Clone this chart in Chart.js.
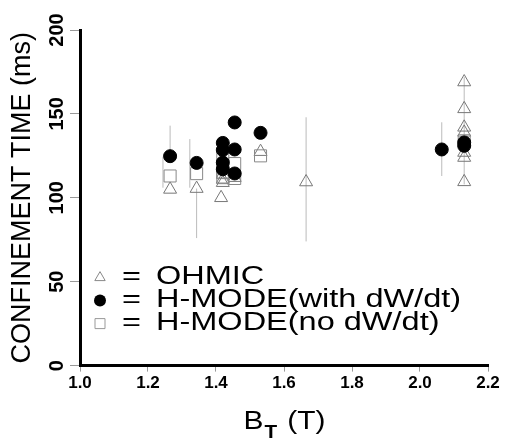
<!DOCTYPE html>
<html>
<head>
<meta charset="utf-8">
<script src="https://cdn.jsdelivr.net/npm/chart.js@4.4.1/dist/chart.umd.min.js"></script>
<style>
  html, body { margin: 0; padding: 0; background: #fff; }
  #wrap { width: 509px; height: 440px; }
</style>
</head>
<body>
<div id="wrap"><canvas id="chart"></canvas></div>
<script>
// values
const ohmicX = [1.265, 1.343, 1.415, 1.42, 1.42, 1.42, 1.455, 1.531, 1.665, 2.13, 2.13, 2.13, 2.13, 2.13, 2.13, 2.13];
const ohmicY = [105, 105.5, 100, 114, 111, 109, 112, 127.5, 109.4, 169, 153, 142, 139, 127, 124, 109.5];

const withX = [1.265, 1.343, 1.42, 1.42, 1.42, 1.42, 1.455, 1.455, 1.455, 1.531, 2.064, 2.13, 2.13];
const withY = [124.8, 120.8, 132.7, 128.5, 121, 117, 144.9, 128.8, 114.5, 138.7, 128.8, 133, 131];

const noX = [1.265, 1.343, 1.42, 1.42, 1.42, 1.42, 1.455, 1.455, 1.531, 2.13];
const noY = [113, 114.4, 124, 119, 115, 112, 120.4, 111.5, 125, 134];

// error bars: x, low, high
const errX = [1.244, 1.265, 1.323, 1.343, 1.665, 2.064, 2.13];
const errLo = [106, 124.8, 106, 76, 74, 113, 108];
const errHi = [124.5, 143, 135, 105.5, 148, 145, 172];

const xTicks = [1.0, 1.2, 1.4, 1.6, 1.8, 2.0, 2.2];
const yTicks = [0, 50, 100, 150, 200];
const legendLabels = ["OHMIC", "H-MODE(with dW/dt)", "H-MODE(no dW/dt)"];
const legendShapes = ["triangle", "circle", "rect"];

const FONT = "'Liberation Sans', Arial, Helvetica, sans-serif";

const toPoints = (xs, ys) => xs.map((x, i) => ({ x: x, y: ys[i] }));

const errPoints = [];
errX.forEach((x, i) => {
  errPoints.push({ x: x, y: errLo[i] }, { x: x, y: errHi[i] }, { x: x, y: null });
});

function drawMarker(ctx, shape, x, y) {
  ctx.beginPath();
  if (shape === "triangle") {
    const r = 6;
    ctx.moveTo(x, y - r);
    ctx.lineTo(x + r * 0.866, y + r * 0.5);
    ctx.lineTo(x - r * 0.866, y + r * 0.5);
    ctx.closePath();
    ctx.strokeStyle = "#888";
    ctx.lineWidth = 1;
    ctx.stroke();
  } else if (shape === "circle") {
    ctx.arc(x, y, 6, 0, Math.PI * 2);
    ctx.fillStyle = "#000";
    ctx.fill();
  } else {
    ctx.rect(x - 5, y - 5, 10, 10);
    ctx.strokeStyle = "#999";
    ctx.lineWidth = 1;
    ctx.stroke();
  }
}

// text legend inside the plot, stretched like the scan
const legendBox = {
  id: "legendBox",
  afterDatasetsDraw(chart) {
    const ctx = chart.ctx;
    const a = chart.chartArea;
    ctx.save();
    legendLabels.forEach((label, i) => {
      const y = a.bottom - 88 + i * 23;
      drawMarker(ctx, legendShapes[i], a.left + 20, y);
      ctx.fillStyle = "#000";
      ctx.font = "25px " + FONT;
      ctx.textBaseline = "middle";
      ctx.textAlign = "left";
      ctx.save();
      ctx.translate(a.left + 42, y);
      ctx.scale(1.3, 1);
      ctx.fillText("=", 0, 0);
      ctx.restore();
      ctx.save();
      ctx.translate(a.left + 76, y);
      ctx.scale(1.3, 1);
      ctx.fillText(label, 0, 0);
      ctx.restore();
    });
    ctx.restore();
  }
};

// x title with subscript: B_T (T)
const xTitle = {
  id: "xTitle",
  afterDraw(chart) {
    const ctx = chart.ctx;
    const a = chart.chartArea;
    const base = a.bottom + 63;
    const sx = 1.15;
    ctx.save();
    ctx.fillStyle = "#000";
    ctx.textBaseline = "alphabetic";
    ctx.textAlign = "left";
    ctx.font = "26px " + FONT;
    const wB = ctx.measureText("B").width * sx;
    const wP = ctx.measureText("(T)").width * sx;
    ctx.font = "18px " + FONT;
    const wT = ctx.measureText("T").width * sx;
    const gap = 10;
    let x = (a.left + a.right) / 2 - (wB + wT + gap + wP) / 2;
    ctx.font = "26px " + FONT;
    ctx.save(); ctx.translate(x, base); ctx.scale(sx, 1); ctx.fillText("B", 0, 0); ctx.restore();
    x += wB + 1;
    ctx.font = "bold 18px " + FONT;
    ctx.save(); ctx.translate(x, base + 9); ctx.scale(sx, 1); ctx.fillText("T", 0, 0); ctx.restore();
    x += wT + gap;
    ctx.font = "26px " + FONT;
    ctx.save(); ctx.translate(x, base); ctx.scale(sx, 1); ctx.fillText("(T)", 0, 0); ctx.restore();
    ctx.restore();
  }
};

new Chart(document.getElementById("chart"), {
  type: "scatter",
  data: {
    datasets: [
      {
        label: "H-MODE(with dW/dt)",
        data: toPoints(withX, withY),
        pointStyle: "circle",
        pointRadius: 6.5,
        backgroundColor: "#000",
        borderColor: "#000",
        borderWidth: 1,
        order: 1
      },
      {
        label: "H-MODE(no dW/dt)",
        data: toPoints(noX, noY),
        pointStyle: "rect",
        pointRadius: 8.5,
        backgroundColor: "rgba(255,255,255,0)",
        borderColor: "#888",
        borderWidth: 1,
        order: 2
      },
      {
        label: "OHMIC",
        data: toPoints(ohmicX, ohmicY),
        pointStyle: "triangle",
        pointRadius: 7.5,
        backgroundColor: "rgba(255,255,255,0)",
        borderColor: "#777",
        borderWidth: 1,
        order: 3
      },
      {
        label: "error",
        data: errPoints,
        showLine: true,
        spanGaps: false,
        pointRadius: 0,
        borderColor: "#bbb",
        borderWidth: 1,
        order: 4
      }
    ]
  },
  options: {
    responsive: true,
    maintainAspectRatio: false,
    animation: false,
    layout: { padding: { left: 4, right: 21, top: 30, bottom: 44 } },
    plugins: {
      legend: { display: false },
      tooltip: { enabled: false }
    },
    scales: {
      x: {
        type: "linear",
        min: 1.0,
        max: 2.2,
        afterBuildTicks: (s) => { s.ticks = xTicks.map((v) => ({ value: v })); },
        ticks: {
          callback: (v) => Number(v).toFixed(1),
          color: "#000",
          padding: 2,
          font: { family: FONT, size: 17, weight: "bold" }
        },
        grid: { drawOnChartArea: false, tickLength: 6, color: "#999", lineWidth: 1 },
        border: { display: true, color: "#000", width: 3 }
      },
      y: {
        min: 0,
        max: 200,
        afterBuildTicks: (s) => { s.ticks = yTicks.map((v) => ({ value: v })); },
        afterFit: (s) => { s.width = 76; },
        ticks: {
          minRotation: 90,
          maxRotation: 90,
          crossAlign: "center",
          padding: -4,
          color: "#000",
          font: { family: FONT, size: 20, weight: "bold" }
        },
        grid: { drawOnChartArea: false, tickLength: 10, color: "#999", lineWidth: 1 },
        border: { display: true, color: "#000", width: 3 },
        title: {
          display: true,
          text: "CONFINEMENT TIME (ms)",
          color: "#000",
          padding: { top: 2, bottom: 0 },
          font: { family: FONT, size: 27 }
        }
      }
    }
  },
  plugins: [legendBox, xTitle]
});
</script>
</body>
</html>
